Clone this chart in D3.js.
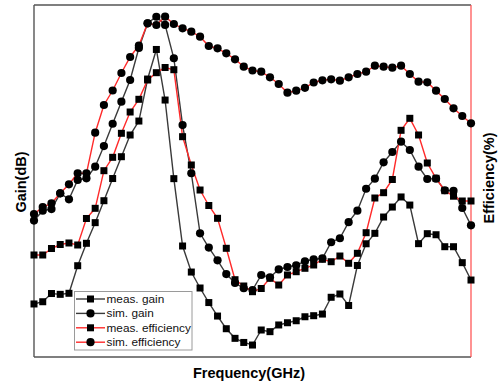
<!DOCTYPE html>
<html>
<head>
<meta charset="utf-8">
<script src="https://cdn.jsdelivr.net/npm/d3@7"></script>
<style>
  html, body { margin: 0; padding: 0; background: #fff; }
  svg { display: block; font-family: "Liberation Sans", Arial, sans-serif; }
</style>
</head>
<body>
<svg id="chart" width="498" height="385"></svg>
<script>
// Frequency grid (GHz)
const freq = [2.0, 2.1, 2.2, 2.3, 2.4, 2.5, 2.6, 2.7, 2.8, 2.9,
              3.0, 3.1, 3.2, 3.3, 3.4, 3.5, 3.6, 3.7, 3.8, 3.9,
              4.0, 4.1, 4.2, 4.3, 4.4, 4.5, 4.6, 4.7, 4.8, 4.9,
              5.0, 5.1, 5.2, 5.3, 5.4, 5.5, 5.6, 5.7, 5.8, 5.9,
              6.0, 6.1, 6.2, 6.3, 6.4, 6.5, 6.6, 6.7, 6.8, 6.9, 7.0];

// Gain (dB)
const measGain = [-15.48, -15.29, -14.59, -14.66, -14.57, -12.22, -10.31, -8.55, -6.68, -4.79,
                  -2.93, -1.08, 0.11, 3.69, 6.21, 1.90, -4.80, -10.54, -12.76, -14.12,
                  -15.36, -16.51, -17.59, -18.41, -18.76, -18.98, -17.70, -17.84, -17.27, -17.08,
                  -16.91, -16.57, -16.48, -16.34, -14.91, -14.63, -15.61, -12.20, -10.35, -9.46,
                  -8.07, -7.22, -6.36, -7.05, -10.34, -9.49, -9.58, -10.60, -10.60, -11.96, -13.44];
const simGain = [-8.37, -7.53, -7.39, -6.05, -6.56, -4.91, -4.77, -3.78, -2.02, -0.12,
                 1.76, 3.61, 6.34, 8.44, 9.00, 8.30, 5.46, -0.23, -4.34, -9.46,
                 -10.67, -11.76, -12.93, -13.69, -14.14, -14.29, -13.01, -13.21, -12.54, -12.33,
                 -12.18, -11.84, -11.67, -11.59, -10.22, -9.88, -8.51, -7.53, -5.66, -4.80,
                 -3.41, -2.53, -1.65, -2.36, -3.78, -4.83, -4.80, -5.79, -5.83, -7.30, -8.78];

// Efficiency (%)
const measEff = [28.98, 28.98, 30.82, 31.96, 32.39, 31.82, 39.35, 42.24, 52.93, 56.73,
                 63.55, 69.60, 73.21, 78.69, 80.77, 82.24, 81.62, 62.59, 54.55, 47.44,
                 43.04, 39.40, 30.88, 21.96, 20.17, 18.55, 19.46, 22.36, 20.45, 23.30,
                 24.23, 25.20, 26.14, 27.76, 27.07, 28.69, 26.62, 29.46, 35.31, 45.17,
                 46.68, 50.43, 64.40, 67.81, 63.07, 55.11, 50.77, 47.24, 45.68, 44.32, 44.32];
const simEff = [40.63, 42.61, 43.66, 46.51, 49.06, 52.19, 52.19, 63.72, 71.59, 75.71,
                80.68, 85.23, 88.49, 94.80, 94.32, 96.68, 94.60, 93.38, 92.41, 90.99,
                88.35, 87.70, 86.28, 84.57, 82.47, 81.39, 81.05, 79.46, 77.56, 75.09,
                75.65, 76.48, 77.98, 78.61, 78.89, 78.49, 79.46, 80.40, 81.05, 82.76,
                82.47, 82.19, 82.76, 80.40, 78.21, 78.04, 75.65, 73.30, 70.65, 68.47, 66.39];

const seriesNames = ["meas. gain", "sim. gain", "meas. efficiency", "sim. efficiency"];

const svg = d3.select("#chart");
const plotLeft = 34, plotRight = 471, plotTop = 5, plotBottom = 357;

const x = d3.scaleLinear().domain([2.0, 7.0]).range([plotLeft, plotRight]);
const yGain = d3.scaleLinear().domain([-20, 10]).range([plotBottom, plotTop]);
const yEff = d3.scaleLinear().domain([0, 100]).range([plotBottom, plotTop]);

const series = [
  { name: seriesNames[0], values: measGain, y: yGain, color: "#3a3a3a", marker: "square" },
  { name: seriesNames[1], values: simGain,  y: yGain, color: "#3a3a3a", marker: "circle" },
  { name: seriesNames[2], values: measEff,  y: yEff,  color: "#ff2a2a", marker: "square" },
  { name: seriesNames[3], values: simEff,   y: yEff,  color: "#ff2a2a", marker: "circle" }
];

const SQ = 7, R = 4.1;

function drawMarker(g, type, cx, cy) {
  if (type === "square") {
    g.append("rect").attr("x", cx - SQ / 2).attr("y", cy - SQ / 2)
      .attr("width", SQ).attr("height", SQ).attr("fill", "#000");
  } else {
    g.append("circle").attr("cx", cx).attr("cy", cy).attr("r", R).attr("fill", "#000");
  }
}

// Frame: bottom, left, top in grey; right (efficiency) axis in red
const frame = svg.append("g");
frame.append("line").attr("x1", plotLeft).attr("x2", plotRight).attr("y1", plotTop).attr("y2", plotTop)
  .attr("stroke", "#555").attr("stroke-width", 1.4);
frame.append("line").attr("x1", plotLeft).attr("x2", plotRight).attr("y1", plotBottom).attr("y2", plotBottom)
  .attr("stroke", "#555").attr("stroke-width", 1.4);
frame.append("line").attr("x1", plotLeft).attr("x2", plotLeft).attr("y1", plotTop).attr("y2", plotBottom)
  .attr("stroke", "#555").attr("stroke-width", 1.4);
frame.append("line").attr("x1", plotRight).attr("x2", plotRight).attr("y1", plotTop).attr("y2", plotBottom)
  .attr("stroke", "#ff4a4a").attr("stroke-width", 1.2);

// Lines first, markers on top
const plot = svg.append("g");
series.forEach(s => {
  const line = d3.line().x((d, i) => x(freq[i])).y(d => s.y(d));
  plot.append("path").datum(s.values).attr("d", line)
    .attr("fill", "none").attr("stroke", s.color).attr("stroke-width", 1.4);
});
series.forEach(s => {
  const g = plot.append("g");
  s.values.forEach((v, i) => drawMarker(g, s.marker, x(freq[i]), s.y(v)));
});

// Axis titles
svg.append("text").attr("transform", "translate(26,182) rotate(-90)")
  .attr("text-anchor", "middle").attr("font-weight", "bold").attr("font-size", 14.5)
  .attr("fill", "#000").text("Gain(dB)");
svg.append("text").attr("transform", "translate(494,178) rotate(-90)")
  .attr("text-anchor", "middle").attr("font-weight", "bold").attr("font-size", 14.5)
  .attr("fill", "#000").text("Efficiency(%)");
svg.append("text").attr("x", 249).attr("y", 378)
  .attr("text-anchor", "middle").attr("font-weight", "bold").attr("font-size", 14.5)
  .attr("fill", "#000").text("Frequency(GHz)");

// Legend
const lg = svg.append("g");
lg.append("rect").attr("x", 74.5).attr("y", 291.5).attr("width", 117.5).attr("height", 58.5)
  .attr("fill", "#fff").attr("stroke", "#9a9a9a").attr("stroke-width", 1);
series.forEach((s, i) => {
  const cy = 299 + i * 14.4;
  lg.append("line").attr("x1", 76).attr("x2", 105).attr("y1", cy).attr("y2", cy)
    .attr("stroke", s.color).attr("stroke-width", 1.4);
  drawMarker(lg, s.marker, 90.5, cy);
  lg.append("text").attr("x", 106.5).attr("y", cy + 4).attr("font-size", 11.8)
    .attr("fill", "#111").text(s.name);
});
</script>
</body>
</html>
